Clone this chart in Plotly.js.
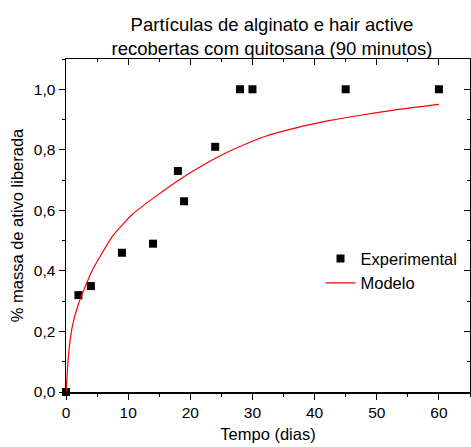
<!DOCTYPE html>
<html>
<head>
<meta charset="utf-8">
<script src="https://cdn.plot.ly/plotly-3.0.1.min.js"></script>
<style>html,body{margin:0;padding:0;background:#fff;}#chart{width:471px;height:447px;}</style>
</head>
<body>
<div id="chart"></div>
<script>
// Experimental data
const tempoExp = [0, 2, 4, 9, 14, 18, 19, 24, 28, 30, 45, 60];
const massaExp = [0, 0.32, 0.35, 0.46, 0.49, 0.73, 0.63, 0.81, 1.0, 1.0, 1.0, 1.0];
// Model curve
const tempoModelo = [0, 0.06, 0.3, 0.6, 1.1, 1.9, 3.0, 4.3, 4.9, 7.5, 10.7, 14.5, 19.6, 22.8, 26.8, 32.1, 37.5, 42.5, 47.6, 53, 60];
const massaModelo = [0, 0.014, 0.095, 0.160, 0.225, 0.284, 0.344, 0.405, 0.427, 0.515, 0.587, 0.647, 0.719, 0.758, 0.800, 0.845, 0.875, 0.897, 0.915, 0.932, 0.950];
const xTicks = [0, 10, 20, 30, 40, 50, 60];
const yTicks = [0, 0.2, 0.4, 0.6, 0.8, 1.0];

const font = {family: 'Arial, "Liberation Sans", sans-serif', color: '#000'};

const traces = [
  {x: tempoExp, y: massaExp, mode: 'markers', type: 'scatter', name: 'Experimental',
   marker: {symbol: 'square', size: 8, color: '#000'}, cliponaxis: false},
  {x: tempoModelo, y: massaModelo, mode: 'lines', type: 'scatter', name: 'Modelo',
   line: {color: '#ff0000', width: 1.2, shape: 'spline', smoothing: 0.6}},
  {x: tempoExp, y: massaExp, xaxis: 'x2', yaxis: 'y2', mode: 'markers', type: 'scatter',
   marker: {opacity: 0}, showlegend: false, hoverinfo: 'skip'}
];

const axBase = {showgrid: false, zeroline: false, showline: true, linecolor: '#000', linewidth: 1.5,
  tickcolor: '#000', tickwidth: 1, tickfont: Object.assign({size: 15.5}, font)};

const layout = {
  width: 471, height: 447,
  margin: {l: 66, r: 1, t: 59, b: 54.5},
  paper_bgcolor: '#fff', plot_bgcolor: '#fff',
  separators: ',.',
  font: font,
  title: {text: 'Partículas de alginato e hair active<br>recobertas com quitosana (90 minutos)',
    font: Object.assign({size: 18.5}, font), x: 272 / 471, xref: 'container', xanchor: 'center',
    yref: 'container', y: 1 - 31 / 447, yanchor: 'middle'},
  xaxis: Object.assign({}, axBase, {range: [0, 65], tickvals: xTicks, ticks: 'outside', ticklen: 6,
    minor: {dtick: 5, tick0: 0, ticks: 'outside', ticklen: 3, tickcolor: '#000'},
    title: {text: 'Tempo (dias)', font: Object.assign({size: 16.5}, font), standoff: 8}}),
  yaxis: Object.assign({}, axBase, {range: [0, 1.1], tickvals: yTicks, tickformat: '.1f', ticks: 'outside', ticklen: 6,
    minor: {dtick: 0.1, tick0: 0, ticks: 'outside', ticklen: 3, tickcolor: '#000'},
    title: {text: '% massa de ativo liberada', font: Object.assign({size: 16.5}, font), standoff: 6}}),
  xaxis2: Object.assign({}, axBase, {range: [0, 65], overlaying: 'x', side: 'top', anchor: 'y2',
    tickvals: xTicks, showticklabels: false, ticks: 'inside', ticklen: 6,
    minor: {dtick: 5, tick0: 0, ticks: 'inside', ticklen: 3, tickcolor: '#000'}}),
  yaxis2: Object.assign({}, axBase, {range: [0, 1.1], overlaying: 'y', side: 'right', anchor: 'x2',
    tickvals: yTicks, showticklabels: false, ticks: 'inside', ticklen: 6,
    minor: {dtick: 0.1, tick0: 0, ticks: 'inside', ticklen: 3, tickcolor: '#000'}}),
  showlegend: true,
  legend: {x: 0.63, xanchor: 'left', y: 0.364, yanchor: 'middle', bgcolor: 'rgba(0,0,0,0)',
    font: Object.assign({size: 16.5}, font), tracegroupgap: 0, itemwidth: 30}
};

Plotly.newPlot('chart', traces, layout, {staticPlot: true, displayModeBar: false});
</script>
</body>
</html>
